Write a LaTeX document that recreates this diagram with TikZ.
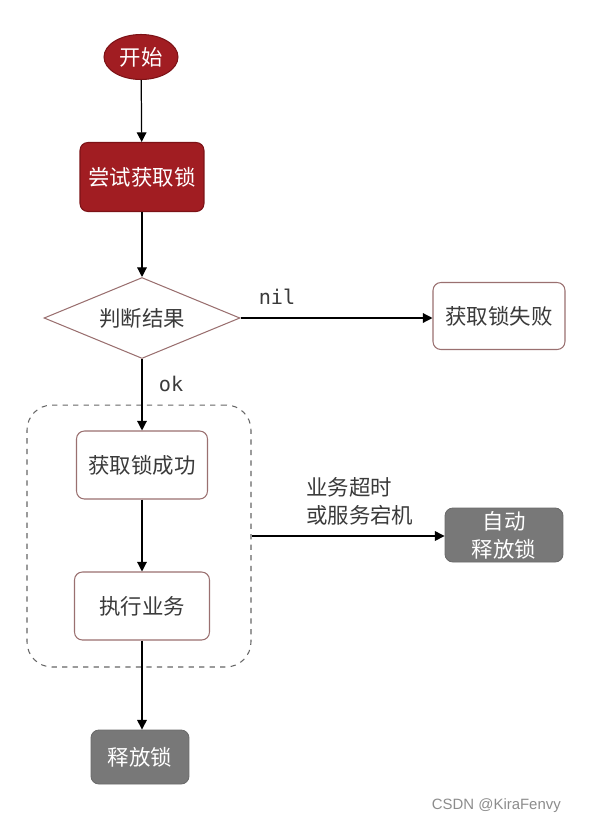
\documentclass[tikz,border=0pt]{standalone}
\usepackage{fontspec}
\setmainfont{Noto Sans CJK SC}
\setmonofont{DejaVu Sans Mono}
\newfontfamily\markfont{Liberation Sans}
\usetikzlibrary{arrows.meta,shapes.geometric}
\definecolor{lockred}{HTML}{A11D22}
\definecolor{lockedge}{HTML}{7C1216}
\definecolor{boxedge}{HTML}{9A7070}
\definecolor{greyfill}{HTML}{787878}
\definecolor{greyedge}{HTML}{6A6A6A}
\definecolor{ink}{HTML}{3A3A3A}
\definecolor{markgrey}{HTML}{8C8C8C}
\tikzset{
  base/.style={inner sep=0pt, font=\fontsize{12.2}{16}\selectfont, align=center},
  startnode/.style={base, ellipse, fill=lockred, draw=lockedge, line width=0.6pt, text=white,
    minimum width=1.48cm, minimum height=0.9cm},
  redbox/.style={base, rectangle, rounded corners=4.5pt, fill=lockred, draw=lockedge,
    line width=0.6pt, text=white},
  plainbox/.style={base, rectangle, rounded corners=4.5pt, fill=white, draw=boxedge,
    line width=0.6pt, text=ink},
  greybox/.style={base, rectangle, rounded corners=4.5pt, fill=greyfill, draw=greyedge,
    line width=0.5pt, text=white},
  decide/.style={base, diamond, aspect=2.45, draw=boxedge, line width=0.6pt, text=ink,
    minimum width=3.92cm, minimum height=1.62cm},
  group/.style={rectangle, rounded corners=0.5cm, draw=black!60, dashed, line width=0.6pt,
    minimum width=4.48cm, minimum height=5.24cm},
  flow/.style={->, line width=0.7pt, draw=black},
  lab/.style={text=ink, font=\fontsize{12.2}{16}\selectfont, align=left},
  codelab/.style={text=ink, font=\ttfamily\fontsize{11.5}{14}\selectfont},
}

\begin{document}
\begin{tikzpicture}[x=0.02cm, y=-0.02cm, >={Triangle[length=5.5pt,width=5.5pt]}]
  \useasboundingbox (0,0) rectangle (598,822);

  % lock held while the business runs
  \node[group] (grp) at (139,536) {};

  \node[startnode] (start) at (141,57) {开始};
  \node[redbox, minimum width=2.48cm, minimum height=1.38cm] (try) at (142,177) {尝试获取锁};
  \node[decide] (judge) at (142,318) {判断结果};
  \node[plainbox, minimum width=2.64cm, minimum height=1.34cm] (fail) at (499,316) {获取锁失败};
  \node[plainbox, minimum width=2.62cm, minimum height=1.36cm] (succ) at (142,465) {获取锁成功};
  \node[plainbox, minimum width=2.70cm, minimum height=1.36cm] (exec) at (142,606) {执行业务};
  \node[greybox, minimum width=2.36cm, minimum height=1.08cm] (auto) at (504,535) {自动\\释放锁};
  \node[greybox, minimum width=1.96cm, minimum height=1.08cm] (rel) at (140,757) {释放锁};

  \draw[flow] (start) -- (try);
  \draw[flow] (try) -- (judge);
  \draw[flow] (judge.east) -- (judge.east -| fail.west);
  \draw[flow] (judge) -- (succ);
  \draw[flow] (succ) -- (exec);
  \draw[flow] (exec.south) -- (exec.south |- rel.north);
  \draw[flow] (grp.east) -- (grp.east -| auto.west);

  \node[codelab] (nil) at (277,297) {nil};
  \node[codelab] (ok) at (171,384) {ok};
  \node[lab, anchor=west] (why) at (300,501) {业务超时\\或服务宕机};

  \node[text=markgrey, font=\markfont\fontsize{8.5}{10}\selectfont, anchor=east] (mark) at (567,806) {CSDN @KiraFenvy};
\end{tikzpicture}
\end{document}
